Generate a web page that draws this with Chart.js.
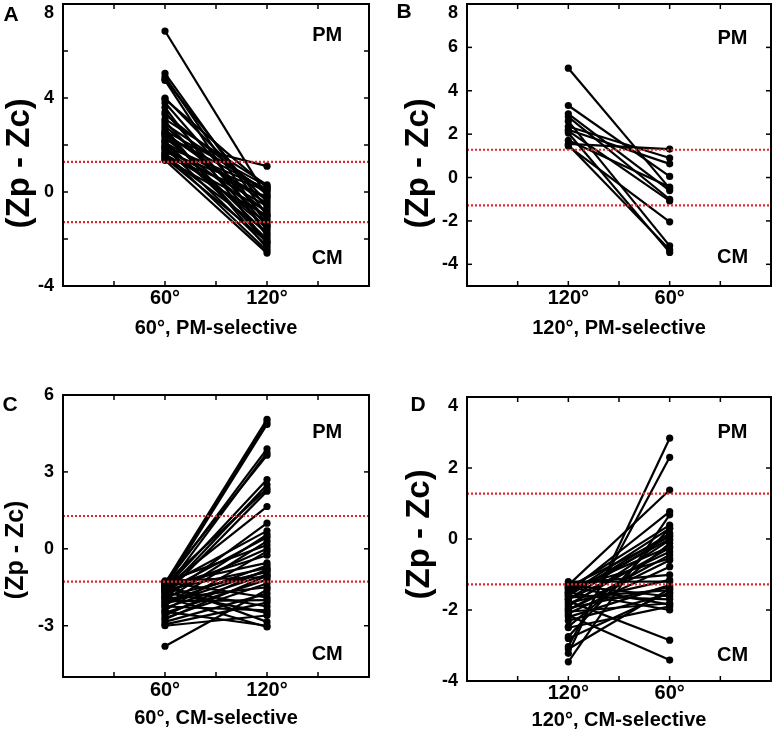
<!DOCTYPE html>
<html><head><meta charset="utf-8">
<script src="https://cdn.jsdelivr.net/npm/chart.js@4.4.1/dist/chart.umd.min.js"></script>
<style>
html,body{margin:0;padding:0;background:#fff;width:775px;height:734px;overflow:hidden;position:relative}
canvas{position:absolute}
</style></head><body>
<canvas id="cA" width="387" height="367" style="left:0;top:0"></canvas>
<canvas id="cB" width="388" height="367" style="left:387px;top:0"></canvas>
<canvas id="cC" width="387" height="367" style="left:0;top:367px"></canvas>
<canvas id="cD" width="388" height="367" style="left:387px;top:367px"></canvas>
<script>
// ---------- data ----------
const threshold = 1.28;

// Panel A: 60°, PM-selective (first = 60°, second = 120°)
const A_categories = ['60°', '120°'];
const A_first  = [6.85, 5.05, 4.9, 4.8, 4.75, 4.0, 3.95, 3.8, 3.6, 3.3, 3.1, 3.0, 2.9, 2.8, 2.7, 2.6, 2.5, 2.45, 2.4, 2.3, 2.2, 2.15, 2.1, 2.0, 1.95, 1.9, 1.85, 1.8, 1.7, 1.65, 1.6, 1.55, 1.5, 1.45, 1.4, 1.35, 3.4, 2.55];
const A_second = [-0.2, -1.0, -1.4, -0.7, -1.9, -0.4, 0.2, -1.2, -2.2, -0.1, 0.3, -1.6, 0.0, -0.9, -2.4, 0.25, -0.5, -1.8, 0.1, -1.1, 1.1, -2.0, -0.3, -1.5, 0.15, -2.3, -0.6, -1.3, 0.05, -2.5, -0.8, -1.7, -0.2, -2.1, -1.0, -2.6, -1.45, -2.15];

// Panel B: 120°, PM-selective (first = 120°, second = 60°)
const B_categories = ['120°', '60°'];
const B_first  = [5.04, 3.32, 2.94, 2.8, 2.35, 2.2, 2.15, 2.05, 1.72, 1.55, 1.5, 1.45, 2.6];
const B_second = [-0.5, 0.05, -0.6, -1.0, 0.9, 0.63, -1.08, -3.45, -0.44, 1.31, -3.33, -2.04, -3.15];

// Panel C: 60°, CM-selective (first = 60°, second = 120°)
const C_categories = ['60°', '120°'];
const C_first  = [-1.35, -1.45, -1.5, -1.4, -1.6, -1.3, -1.55, -1.7, -1.35, -1.8, -1.5, -1.9, -1.45, -2.0, -1.65, -2.2, -1.3, -1.75, -2.4, -1.4, -2.1, -1.6, -2.6, -1.85, -2.3, -1.25, -2.5, -2.7, -1.95, -3.8, -2.85, -1.3, -2.05, -2.95, -1.55, -2.25, -1.7, -3.0, -1.4, -2.45, -1.9, -2.15, -2.75, -1.5];
const C_second = [5.05, 4.95, 4.85, 3.9, 3.75, 3.65, 2.7, 2.5, 2.35, 2.25, 1.65, 1.0, 0.7, 0.55, 0.45, 0.3, 0.15, 0.0, -0.1, -0.55, -0.65, -0.75, -0.8, -0.9, -1.0, -1.1, -1.2, -1.35, -1.5, -1.6, -1.75, -1.9, -2.0, -2.1, -2.25, -2.4, -2.5, -2.6, -2.85, -3.0, -3.05, -0.85, -1.05, -0.25];

// Panel D: 120°, CM-selective (first = 120°, second = 60°)
const D_categories = ['120°', '60°'];
const D_first  = [-3.22, -3.03, -1.3, -1.5, -3.46, -1.4, -2.75, -1.6, -1.35, -1.9, -2.47, -1.45, -1.7, -2.0, -1.55, -2.1, -1.25, -1.8, -2.2, -1.65, -1.3, -2.05, -1.5, -1.75, -2.15, -1.85, -1.4, -2.3, -1.6, -1.95, -1.2, -2.5, -2.8, -3.1, -1.7, -2.0, -1.35, -1.55];
const D_second = [2.84, 2.3, 1.38, 0.77, 0.68, 0.39, 0.3, 0.16, 0.07, -0.03, -0.12, -0.22, -0.36, -0.45, 0.0, -0.78, -1.01, -1.15, -1.3, -1.44, -1.62, -1.81, -2.0, -2.85, -3.41, -0.25, -0.55, -1.55, -1.7, -1.35, -1.2, -1.9, -1.5, -1.4, 0.1, -0.6, -1.85, 0.3];

const panelLetters = ['A', 'B', 'C', 'D'];
const xTitles = ['60°, PM-selective', '120°, PM-selective', '60°, CM-selective', '120°, CM-selective'];
const yTitle = '(Zp - Zc)';
const cornerLabels = ['PM', 'CM'];

// ---------- drawing ----------
const FONT = "'Liberation Sans', Arial, Helvetica, sans-serif";

const framePlugin = {
  id: 'frame',
  afterDatasetsDraw(chart, args, o) {
    const {ctx, chartArea: a, scales: {x, y}} = chart;
    ctx.save();
    ctx.strokeStyle = '#000';
    ctx.lineWidth = 1.5;
    const tl = 5;
    const seg = (x1, y1, x2, y2) => { ctx.beginPath(); ctx.moveTo(x1, y1); ctx.lineTo(x2, y2); ctx.stroke(); };
    y.ticks.forEach(t => {
      if (t.value <= y.min + 1e-9 || t.value >= y.max - 1e-9) return;
      const py = y.getPixelForValue(t.value);
      seg(a.left, py, a.left + tl, py);
      seg(a.right, py, a.right - tl, py);
    });
    x.ticks.forEach(t => {
      if (t.value <= x.min + 1e-9 || t.value >= x.max - 1e-9) return;
      const px = x.getPixelForValue(t.value);
      seg(px, a.bottom, px, a.bottom - tl);
      seg(px, a.top, px, a.top + tl);
    });
    ctx.lineWidth = 2;
    ctx.strokeRect(a.left, a.top, a.right - a.left, a.bottom - a.top);
    // corner labels
    ctx.fillStyle = '#000';
    ctx.font = 'bold 20px ' + FONT;
    ctx.textAlign = 'center';
    ctx.textBaseline = 'middle';
    ctx.fillText(cornerLabels[0], x.getPixelForValue(o.pm[0]), y.getPixelForValue(o.pm[1]));
    ctx.fillText(cornerLabels[1], x.getPixelForValue(o.cm[0]), y.getPixelForValue(o.cm[1]));
    // panel letter
    ctx.font = 'bold 21px ' + FONT;
    ctx.fillText(o.letter, o.letterPos[0], o.letterPos[1]);
    ctx.restore();
  }
};

function makePanel(p) {
  const canvas = document.getElementById(p.id);
  const W = canvas.width, H = canvas.height;
  const datasets = [];
  // threshold lines first so they are drawn on top
  [threshold, -threshold].forEach(v => {
    datasets.push({
      data: [{x: 0, y: v}, {x: 3, y: v}],
      borderColor: '#e3242b', borderWidth: 2.2, borderDash: [2, 2],
      pointRadius: 0, fill: false
    });
  });
  for (let i = 0; i < p.first.length; i++) {
    datasets.push({
      data: [{x: 1, y: p.first[i]}, {x: 2, y: p.second[i]}],
      borderColor: '#000', borderWidth: 2.2,
      pointRadius: 3.6, pointBackgroundColor: '#000', pointBorderColor: '#000', pointBorderWidth: 0,
      fill: false
    });
  }
  new Chart(canvas, {
    type: 'line',
    data: {datasets},
    options: {
      responsive: false, animation: false, devicePixelRatio: 1,
      layout: {padding: {left: 0, top: p.box.top, right: W - p.box.right, bottom: 0}},
      plugins: {
        legend: {display: false}, tooltip: {enabled: false},
        frame: {pm: p.pm, cm: p.cm, letter: p.letter, letterPos: p.letterPos}
      },
      scales: {
        x: {
          type: 'linear', min: 0, max: 3,
          grid: {display: false, drawTicks: false}, border: {display: false},
          ticks: {
            stepSize: 0.5, autoSkip: false, maxRotation: 0, padding: p.xTickPad, color: '#000',
            font: {family: FONT, size: 20, weight: 'bold'},
            callback: v => v === 1 ? p.cats[0] : (v === 2 ? p.cats[1] : '')
          },
          title: {display: true, text: p.xTitle, color: '#000',
            font: {family: FONT, size: 20, weight: 'bold'}, padding: {top: 0, bottom: p.xTitlePad}},
          afterFit: s => { s.height = H - p.box.bottom; s.paddingLeft = 0; s.paddingRight = 0; }
        },
        y: {
          min: p.yMin, max: p.yMax,
          grid: {display: false, drawTicks: false}, border: {display: false},
          ticks: {
            stepSize: p.yStep, autoSkip: false, padding: 9, color: '#000',
            font: {family: FONT, size: 18, weight: 'bold', lineHeight: 1.0},
            callback: v => {
              const r = v / p.labelEvery;
              if (Math.abs(r - Math.round(r)) > 1e-9) return '';
              if (p.shiftTop && v === p.yMax) return ['', String(v)];
              return String(v);
            }
          },
          title: {display: true, text: p.yTitleLead + yTitle + p.yTitleTrail, color: '#000',
            font: {family: FONT, size: p.yTitleSize, weight: 'bold'}, padding: {top: p.yTitlePad, bottom: 0}},
          afterFit: s => { s.width = p.box.left; s.paddingTop = 0; s.paddingBottom = 0; }
        }
      }
    },
    plugins: [framePlugin]
  });
}

makePanel({id: 'cA', letter: panelLetters[0], letterPos: [11, 15], cats: A_categories, first: A_first, second: A_second,
  yMin: -4, yMax: 8, yStep: 2, labelEvery: 4, shiftTop: true, xTitle: xTitles[0],
  box: {left: 63, top: 4, right: 369, bottom: 286}, xTickPad: 0, xTitlePad: 27,
  yTitleSize: 33, yTitlePad: 0.5, yTitleLead: '', yTitleTrail: '    ',
  pm: [2.59, 6.68], cm: [2.59, -2.81]});
makePanel({id: 'cB', letter: panelLetters[1], letterPos: [17, 12], cats: B_categories, first: B_first, second: B_second,
  yMin: -5, yMax: 8, yStep: 2, labelEvery: 2, shiftTop: true, xTitle: xTitles[1],
  box: {left: 80, top: 3, right: 384, bottom: 286}, xTickPad: 0, xTitlePad: 27,
  yTitleSize: 33, yTitlePad: 12.2, yTitleLead: '', yTitleTrail: '    ',
  pm: [2.62, 6.39], cm: [2.62, -3.7]});
makePanel({id: 'cC', letter: panelLetters[2], letterPos: [10, 38], cats: C_categories, first: C_first, second: C_second,
  yMin: -5, yMax: 6, yStep: 3, labelEvery: 3, shiftTop: false, xTitle: xTitles[2],
  box: {left: 63, top: 28, right: 369, bottom: 310}, xTickPad: 1, xTitlePad: 4,
  yTitleSize: 25, yTitlePad: 1, yTitleLead: '', yTitleTrail: '    ',
  pm: [2.59, 4.55], cm: [2.59, -4.12]});
makePanel({id: 'cD', letter: panelLetters[3], letterPos: [31, 38], cats: D_categories, first: D_first, second: D_second,
  yMin: -4, yMax: 4, yStep: 2, labelEvery: 2, shiftTop: true, xTitle: xTitles[3],
  box: {left: 80, top: 30, right: 384, bottom: 314}, xTickPad: 0, xTitlePad: 2,
  yTitleSize: 33, yTitlePad: 13.2, yTitleLead: ' ', yTitleTrail: '',
  pm: [2.62, 3.01], cm: [2.62, -3.27]});
</script>
</body></html>
